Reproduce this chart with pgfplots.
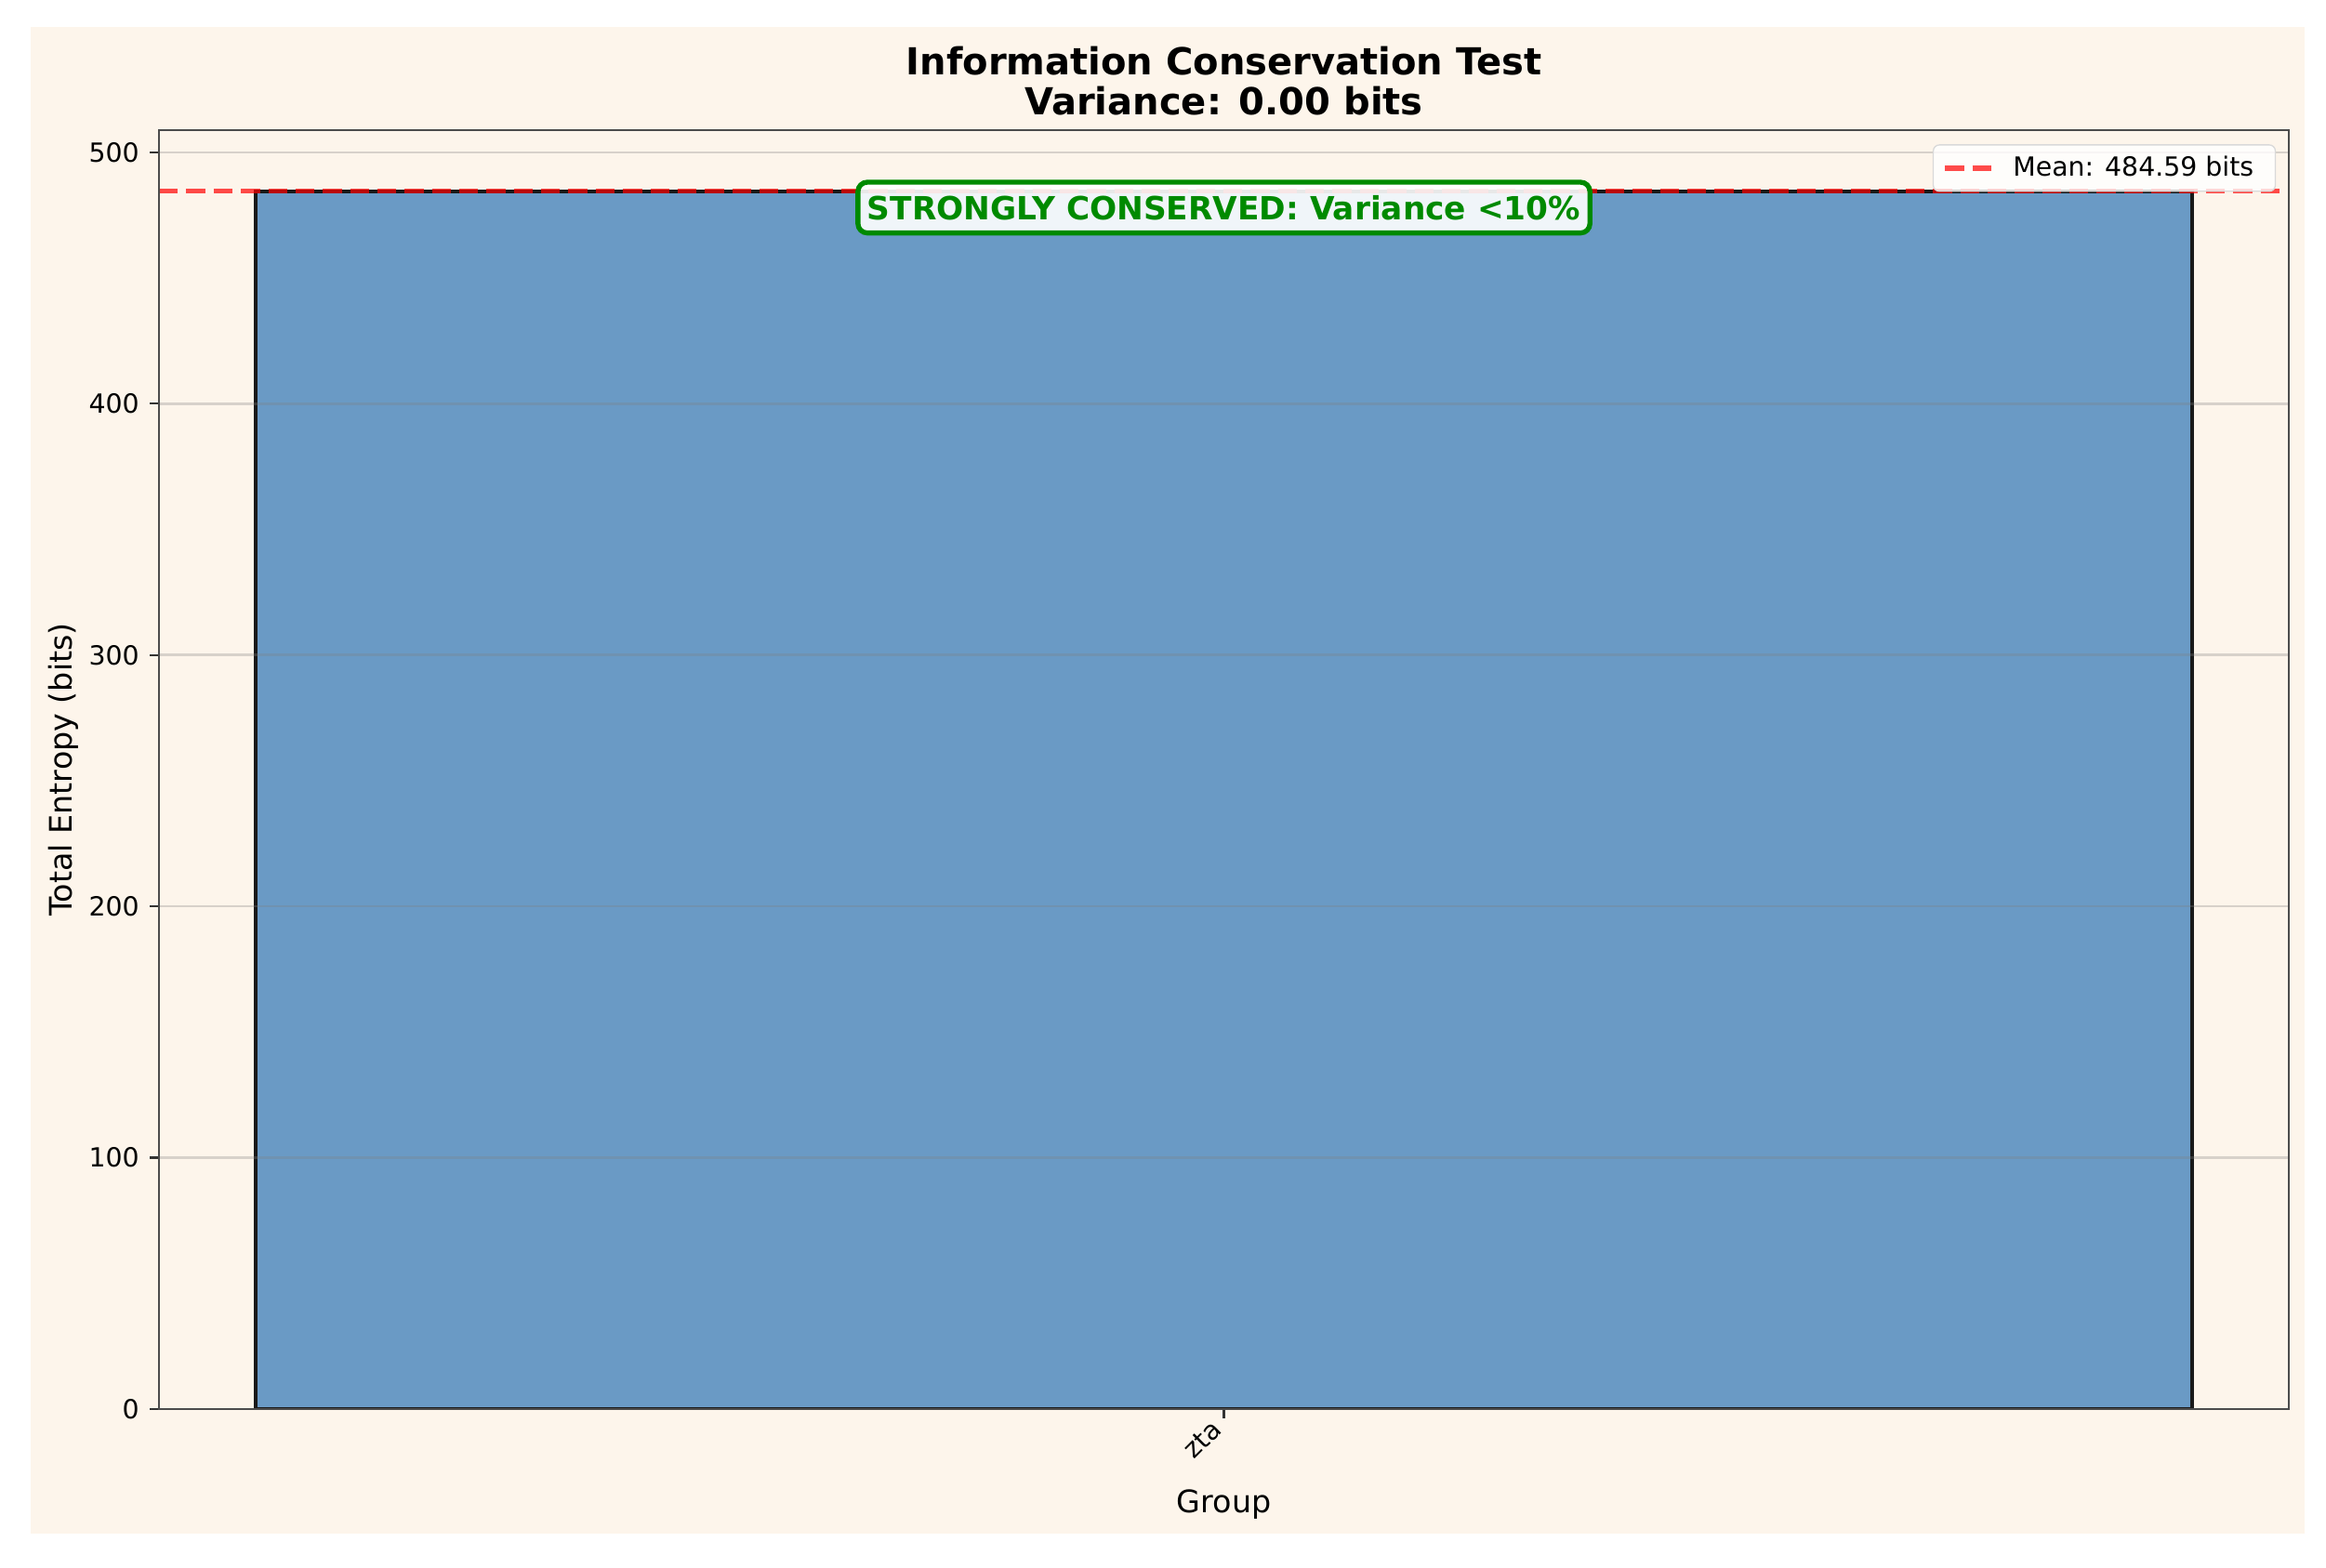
\documentclass[border=0pt]{standalone}
\usepackage{fontspec}
\setmainfont{DejaVu Sans}
\usepackage{pgfplots}
\pgfplotsset{compat=1.18}

\definecolor{bgcream}{HTML}{FDF5EB}
\definecolor{barblue}{HTML}{6A9AC5}
\definecolor{okgreen}{HTML}{008A00}

\begin{document}
\begin{tikzpicture}
% page size and figure background
\useasboundingbox (-51.3pt,-51.0pt) rectangle (698.7pt,454.4pt);
\fill[white] (-51.3pt,-51.0pt) rectangle (698.7pt,454.4pt);
\fill[bgcream] (-41.4pt,-40.2pt) rectangle (691.8pt,445.7pt);

\begin{axis}[
    at={(0,0)}, anchor=south west,
    width=686.7pt, height=412.4pt, scale only axis,
    xmin=-0.44, xmax=0.44,
    ymin=0, ymax=508.82,
    xtick={0}, xticklabels={zta},
    ytick={0,100,200,300,400,500},
    tick align=outside, xtick pos=bottom, ytick pos=left,
    major tick length=2.9pt,
    every tick/.style={black!80, line width=0.66pt},
    axis line style={black!70, line width=0.8pt},
    ymajorgrids,
    major grid style={gray, opacity=0.3, line width=0.8pt},
    axis on top,
    /pgf/number format/assume math mode=true,
    tick label style={font=\fontsize{8.5}{10}\selectfont},
    xticklabel style={rotate=45, anchor=south east, inner sep=0pt},
    xticklabel shift=4.5pt,
    title={Information Conservation Test\\Variance: 0.00 bits},
    title style={at={(0.5,1)}, anchor=south, yshift=-1.4pt, inner sep=0pt,
        align=center, font=\fontsize{12}{13}\selectfont\bfseries},
    xlabel={Group},
    ylabel={Total Entropy (bits)},
    xlabel style={at={(axis description cs:0.5,-0.075)}, anchor=center,
        font=\fontsize{10}{12}\selectfont},
    ylabel style={at={(axis description cs:-0.0451,0.5)}, anchor=center,
        font=\fontsize{10}{12}\selectfont},
    legend style={at={(axis description cs:0.994,0.989)}, anchor=north east,
        draw=black!15, fill=white, fill opacity=0.8, text opacity=1,
        rounded corners=2pt, inner xsep=3pt, inner ysep=1.5pt,
        font=\fontsize{8.5}{10}\selectfont,
        nodes={inner xsep=4pt}},
    legend cell align=left,
]
% bar
\addplot[ybar, bar width=0.8, bar shift=0pt, fill=barblue, draw=black!90,
    line width=1.2pt, forget plot] coordinates {(0,484.59)};
% mean line
\addplot[red, opacity=0.7, line width=1.66pt, dash pattern=on 6.1pt off 2.7pt]
    coordinates {(-0.44,484.59) (0.44,484.59)};
\addlegendentry{Mean: 484.59 bits}
% annotation
\node[fill=white, fill opacity=0.9, text opacity=1, draw=okgreen, line width=1.6pt,
    rounded corners=3pt, inner xsep=3pt, inner ysep=4.2pt, text=okgreen,
    font=\fontsize{10.3}{12}\selectfont\bfseries]
    at (rel axis cs:0.5,0.9395) {STRONGLY CONSERVED: Variance <10\%};
\end{axis}
\end{tikzpicture}
\end{document}
